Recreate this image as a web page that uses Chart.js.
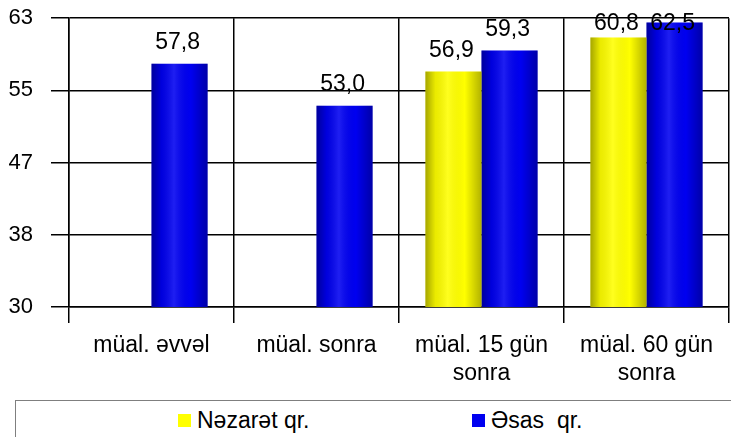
<!DOCTYPE html>
<html>
<head>
<meta charset="utf-8">
<script src="https://cdn.jsdelivr.net/npm/chart.js@4/dist/chart.umd.min.js"></script>
<style>
    html, body { margin: 0; padding: 0; background: #fff; overflow: hidden; }
    #wrap { position: relative; width: 731px; height: 437px; overflow: hidden; font-family: 'Liberation Sans', Arial, sans-serif; }
    #chart-box { position: absolute; left: 0; top: -13px; width: 731px; height: 413px; }
    #legend { position: absolute; left: 15px; top: 400px; width: 730px; height: 40px;
              border-top: 1px solid #7f7f7f; border-left: 1px solid #7f7f7f; box-sizing: border-box; }
    .item { position: absolute; top: 6px; font-size: 23px; line-height: 26px; color: #000; white-space: pre; }
    .swatch { display: inline-block; width: 13px; height: 13px; margin-right: 6px; vertical-align: 1px; }
</style>
</head>
<body>
<div id="wrap">
    <div id="chart-box"><canvas id="chart"></canvas></div>
    <div id="legend"></div>
</div>
<script>
// =====================
// DATA
// =====================

const categories = [
    'müal. əvvəl',
    'müal. sonra',
    ['müal. 15 gün', 'sonra'],
    ['müal. 60 gün', 'sonra'],
];
const seriesNames = ['Nəzarət qr.', 'Əsas  qr.'];
const controlValues = [null, null, 56.9, 60.8];
const mainValues = [57.8, 53.0, 59.3, 62.5];
const yTickLabels = ['30', '38', '47', '55', '63'];

const YELLOW = '#ffff00';
const BLUE = '#0000f0';
const FONT = "'Liberation Sans', Arial, sans-serif";

// =====================
// PLUGINS
// =====================

// cylinder shading + value labels
const barDecor = {
    id: 'barDecor',
    afterDatasetsDraw(chart) {
        const ctx = chart.ctx;
        const area = chart.chartArea;
        ctx.save();
        chart.data.datasets.forEach((ds, di) => {
            const meta = chart.getDatasetMeta(di);
            meta.data.forEach((bar, i) => {
                const v = ds.data[i];
                if (v === null || v === undefined) return;
                const p = bar.getProps(['x', 'y', 'base', 'width'], true);
                const left = p.x - p.width / 2;
                const bottom = Math.min(p.base, area.bottom);
                const g = ctx.createLinearGradient(left, 0, left + p.width, 0);
                g.addColorStop(0, 'rgba(0,0,0,0.35)');
                g.addColorStop(0.18, 'rgba(0,0,0,0.08)');
                g.addColorStop(0.4, 'rgba(255,255,255,0.12)');
                g.addColorStop(0.7, 'rgba(0,0,0,0.0)');
                g.addColorStop(1, 'rgba(0,0,0,0.3)');
                ctx.fillStyle = g;
                ctx.fillRect(left, p.y, p.width, bottom - p.y);

                // value label
                ctx.fillStyle = '#000';
                ctx.font = '23px ' + FONT;
                ctx.textAlign = 'center';
                ctx.textBaseline = 'alphabetic';
                const ty = Math.max(p.y - 15, area.top + 12);
                ctx.fillText(v.toFixed(1).replace('.', ','), p.x - 2, ty);
            });
        });
        ctx.restore();
    }
};

// =====================
// CHART
// =====================

const chart = new Chart(document.getElementById('chart'), {
    type: 'bar',
    data: {
        labels: categories,
        datasets: [
            {
                label: seriesNames[0],
                data: controlValues,
                backgroundColor: YELLOW,
                categoryPercentage: 0.68,
                barPercentage: 1.0,
            },
            {
                label: seriesNames[1],
                data: mainValues,
                backgroundColor: BLUE,
                categoryPercentage: 0.68,
                barPercentage: 1.0,
            },
        ],
    },
    options: {
        responsive: true,
        maintainAspectRatio: false,
        animation: false,
        layout: { padding: { top: 4, right: 2, left: 0, bottom: 0 } },
        plugins: {
            legend: { display: false },
            tooltip: { enabled: false },
        },
        scales: {
            x: {
                grid: { color: '#000', lineWidth: 1.5, tickLength: 16, offset: true },
                border: { color: '#000', width: 1.5 },
                ticks: {
                    color: '#000',
                    font: { family: FONT, size: 23, lineHeight: 1.25 },
                    padding: 8,
                    maxRotation: 0,
                    autoSkip: false,
                },
                afterFit(scale) { scale.height = 93; },
            },
            y: {
                min: 30,
                max: 63,
                ticks: {
                    stepSize: 8.25,
                    color: '#000',
                    font: { family: FONT, size: 22 },
                    padding: 18,
                    callback: (value, index) => yTickLabels[index],
                },
                grid: { color: '#000', lineWidth: 1.5, tickLength: 18 },
                border: { color: '#000', width: 1.5 },
                afterFit(scale) { scale.width = 69; },
            },
        },
    },
    plugins: [barDecor],
});

// =====================
// LEGEND
// =====================

const legendEl = document.getElementById('legend');
const legendItems = [
    { name: seriesNames[0], color: YELLOW, left: 162 },
    { name: seriesNames[1], color: BLUE, left: 456 },
];
legendItems.forEach(it => {
    const span = document.createElement('span');
    span.className = 'item';
    span.style.left = it.left + 'px';
    const sw = document.createElement('span');
    sw.className = 'swatch';
    sw.style.background = it.color;
    span.appendChild(sw);
    span.appendChild(document.createTextNode(it.name));
    legendEl.appendChild(span);
});
</script>
</body>
</html>
